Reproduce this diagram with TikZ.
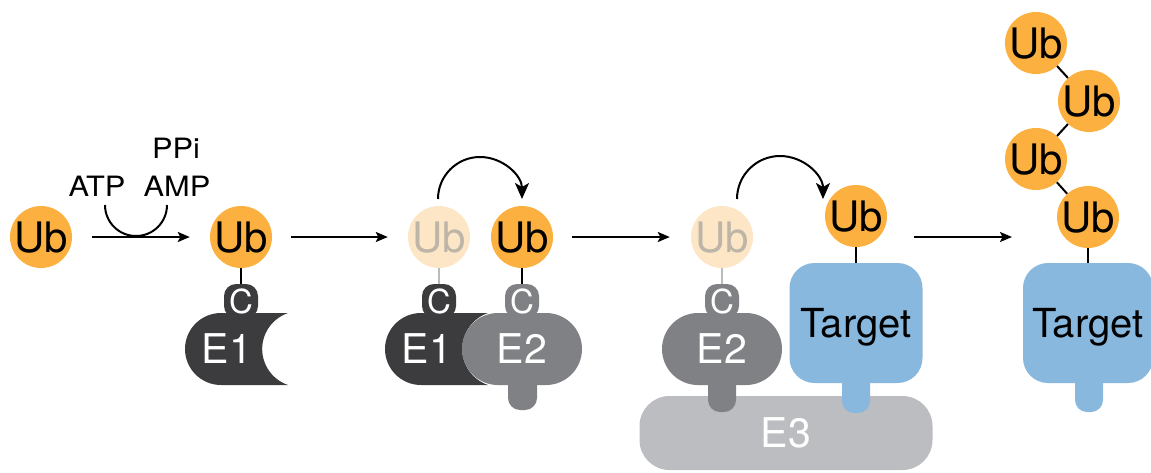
\documentclass[tikz,border=0pt]{standalone}
\usepackage{fontspec}
\setmainfont{TeX Gyre Heros}
\newfontfamily\widefont[FakeStretch=1.1]{TeX Gyre Heros}
\usetikzlibrary{arrows.meta}
\definecolor{ubo}{HTML}{FBB040}
\definecolor{ubf}{HTML}{FDE6C6}
\definecolor{ubft}{HTML}{BDB5A7}
\definecolor{fadeline}{HTML}{BBBBBB}
\definecolor{e1c}{HTML}{3C3C3E}
\definecolor{e2c}{HTML}{808184}
\definecolor{e3c}{HTML}{BCBDC0}
\definecolor{tgc}{HTML}{88B8DD}
\begin{document}
\begin{tikzpicture}[x=1pt,y=-1pt,
  ub/.style={circle, fill=ubo, minimum size=62pt, inner sep=0pt, text depth=0pt,
    font=\fontsize{42}{42}\selectfont},
  ubfaded/.style={ub, fill=ubf, text=ubft},
  ctab/.style={rectangle, rounded corners=12pt, minimum width=34pt, minimum height=34pt,
    inner sep=0pt, text=white, text depth=0pt, font=\fontsize{33}{33}\selectfont},
  elabel/.style={inner sep=0pt, text=white, text depth=0pt, font=\fontsize{41}{41}\selectfont},
  ebox/.style={elabel, rectangle, rounded corners=36pt, minimum width=120pt, minimum height=72pt, fill=e2c},
  e3box/.style={elabel, rectangle, rounded corners=30pt, minimum width=293pt, minimum height=74pt, fill=e3c},
  target/.style={rectangle, rounded corners=25pt, minimum width=133pt, minimum height=120pt,
    inner sep=0pt, fill=tgc, text depth=0pt, font=\fontsize{40}{40}\selectfont},
  stem/.style={rounded corners=12pt},
  small/.style={inner sep=0pt, text depth=0pt, font=\widefont\fontsize{28}{28}\selectfont},
  link/.style={line width=2pt},
  fadelink/.style={line width=2pt, draw=fadeline},
  arr/.style={line width=2pt, -{Stealth[length=12pt,width=10pt,inset=2.5pt]}},
  carr/.style={line width=2pt, -{Stealth[length=16pt,width=14pt,inset=4pt]}}
]
\useasboundingbox (0,0) rectangle (1151,472);

% ---------- stage 0 / 1 ----------
\node[ub] (u1) at (41,237) {Ub};
\node[ub] (u2) at (241,237) {Ub};
\fill[e1c] (221,313) arc[start angle=270, end angle=90, radius=36] -- (288,385)
  arc[start angle=108.7, end angle=251.3, radius=38] -- cycle;
\node[ctab, fill=e1c] (t1) at (241,301) {C};
\node[elabel] (e1a) at (227,349) {E1};
\draw[link] (u2) -- (t1);
\draw[arr, shorten <=20pt, shorten >=20pt] (u1) -- (u2);
\coordinate (lp) at (105,205);
\draw[link] (lp) arc[start angle=180, end angle=0, radius=31];
\node[small] (atp) at (97,186) {ATP};
\node[small] (amp) at (177,186) {AMP};
\node[small] (ppi) at (176,148) {PPi};

% ---------- stage 2 ----------
\node[ubfaded] (fu2) at (439,237) {Ub};
\node[ub] (u3) at (522,237) {Ub};
\begin{scope}[shift={(200,0)}]
  \fill[e1c] (221,313) arc[start angle=270, end angle=90, radius=36] -- (288,385)
    arc[start angle=108.7, end angle=251.3, radius=38] -- cycle;
\end{scope}
\node[ctab, fill=e1c] (t2) at (439,301) {C};
\fill[e2c, stem] (508,340) rectangle (537,410);
\node[ebox] (e2a) at (522,349) {E2};
\node[ctab, fill=e2c] (t3) at (522,301) {C};
\node[elabel] (e1b) at (427,349) {E1};
\draw[fadelink] (fu2) -- (t2);
\draw[link] (u3) -- (t3);
\draw[arr, shorten <=19pt, shorten >=20pt] (u2) -- (fu2);
\coordinate (c1s) at (438,199);
\draw[carr] (c1s) arc[start angle=180, end angle=360, radius=42];

% ---------- stage 3 ----------
\node[e3box] (e3) at (786,433) {E3};
\fill[e2c, stem] (708,340) rectangle (736,412);
\node[ebox] (e2b) at (722,349) {E2};
\node[ctab, fill=e2c] (t4) at (722,301) {C};
\node[ubfaded] (fu3) at (722,237) {Ub};
\fill[tgc, stem] (842,340) rectangle (870,413);
\node[target] (tg1) at (856,323) {Target};
\node[ub] (u4) at (856,216) {Ub};
\draw[fadelink] (fu3) -- (t4);
\draw[link] (u4) -- (tg1);
\draw[arr, shorten <=19pt, shorten >=21pt] (u3) -- (fu3);
\coordinate (c2s) at (737,199);
\draw[carr] (c2s) arc[start angle=180, end angle=360, radius=43];

% ---------- stage 4 ----------
\coordinate (a4s) at (914,237);
\coordinate (a4e) at (1012,237);
\draw[arr] (a4s) -- (a4e);
\fill[tgc, stem] (1075,340) rectangle (1103,412);
\node[target, minimum width=130pt] (tg2) at (1088,323) {Target};
\node[ub] (pa) at (1036,43) {Ub};
\node[ub] (pb) at (1089,101) {Ub};
\node[ub] (pc) at (1036,159) {Ub};
\node[ub] (pd) at (1088,217) {Ub};
\draw[link] (pa) -- (pb);
\draw[link] (pb) -- (pc);
\draw[link] (pc) -- (pd);
\draw[link] (pd) -- (tg2);
\end{tikzpicture}
\end{document}
